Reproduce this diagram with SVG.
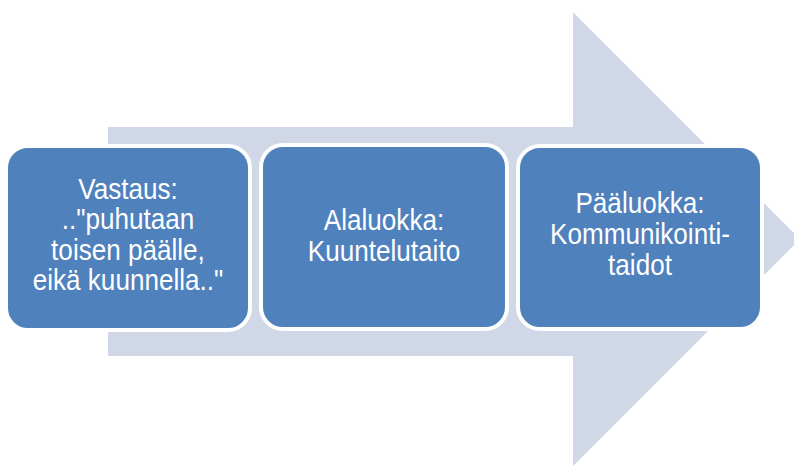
<svg xmlns="http://www.w3.org/2000/svg" width="794" height="466" viewBox="0 0 794 466">
<style>
.box{fill:#4F81BD;stroke:#FFFFFF;stroke-width:4}
.t{fill:#FFFFFF;font-family:"Liberation Sans",Arial,sans-serif;font-size:29px;text-anchor:middle}
</style>
<g id="arrow">
<polygon points="108,127 573,127 573,12 800,239 573,466 573,356 108,356" fill="#D0D8E8"/>
</g>
<g id="connectors"></g>
<g id="node1">
<rect class="box" x="6" y="146" width="244" height="184" rx="22"/>
<g transform="translate(128 0) scale(0.9 1)">
<text class="t" x="0" y="199">Vastaus:</text>
<text class="t" x="0" y="229.5">.."puhutaan</text>
<text class="t" x="0" y="260">toisen päälle,</text>
<text class="t" x="0" y="290.5">eikä kuunnella.."</text>
</g>
</g>
<g id="node2">
<rect class="box" x="261" y="145" width="246" height="184" rx="22"/>
<g transform="translate(384 0) scale(0.9 1)">
<text class="t" x="0" y="230.5">Alaluokka:</text>
<text class="t" x="0" y="261.5">Kuuntelutaito</text>
</g>
</g>
<g id="node3">
<rect class="box" x="518" y="146" width="244" height="183" rx="22"/>
<g transform="translate(640 0) scale(0.9 1)">
<text class="t" x="0" y="213">Pääluokka:</text>
<text class="t" x="0" y="244">Kommunikointi-</text>
<text class="t" x="0" y="275">taidot</text>
</g>
</g>
</svg>
